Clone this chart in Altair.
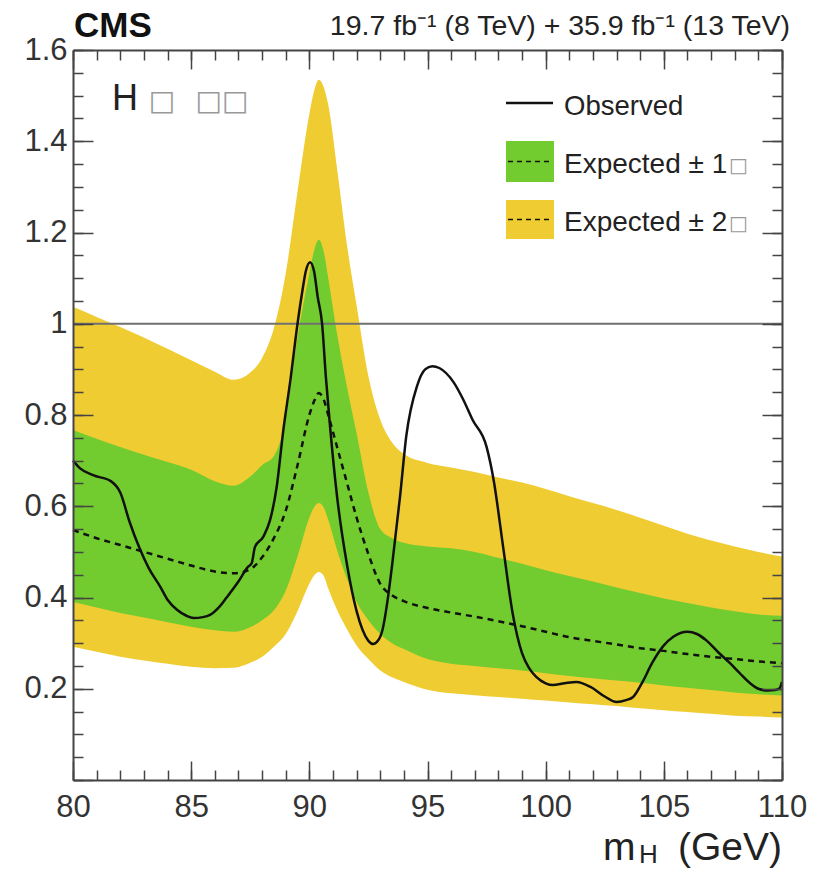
import altair as alt
import pandas as pd

# ---------------- data ----------------
BAND_X = [80, 81, 82, 83, 84, 85, 86, 86.8, 87.5, 88, 88.5, 89, 89.5, 90, 90.2, 90.4,
          90.6, 90.8, 91.2, 91.6, 92, 92.5, 93, 93.5, 94, 95, 96, 97, 98, 99, 100,
          101, 102, 103, 104, 105, 106, 107, 108, 109, 110]
Y2_UP = [1.037, 1.015, 0.993, 0.97, 0.945, 0.92, 0.895, 0.877, 0.893, 0.925, 0.99, 1.11,
         1.29, 1.46, 1.51, 1.535, 1.52, 1.48, 1.33, 1.17, 1.04, 0.885, 0.79, 0.74, 0.715,
         0.695, 0.685, 0.675, 0.663, 0.652, 0.638, 0.622, 0.607, 0.592, 0.575, 0.557,
         0.54, 0.525, 0.512, 0.5, 0.49]
Y1_UP = [0.767, 0.748, 0.73, 0.713, 0.697, 0.68, 0.655, 0.645, 0.665, 0.69, 0.71, 0.79,
         0.97, 1.11, 1.16, 1.184, 1.16, 1.1, 0.97, 0.86, 0.76, 0.63, 0.55, 0.53, 0.52,
         0.512, 0.508, 0.5, 0.487, 0.474, 0.46, 0.447, 0.435, 0.422, 0.41, 0.398, 0.388,
         0.378, 0.37, 0.363, 0.36]
Y1_LO = [0.39, 0.378, 0.366, 0.356, 0.346, 0.336, 0.328, 0.325, 0.335, 0.35, 0.372, 0.415,
         0.49, 0.575, 0.598, 0.607, 0.598, 0.57, 0.5, 0.44, 0.39, 0.35, 0.32, 0.3, 0.287,
         0.265, 0.255, 0.25, 0.245, 0.24, 0.234, 0.228, 0.223, 0.218, 0.213, 0.207, 0.202,
         0.197, 0.192, 0.188, 0.185]
Y2_LO = [0.292, 0.281, 0.27, 0.262, 0.255, 0.248, 0.245, 0.246, 0.257, 0.27, 0.292, 0.32,
         0.37, 0.43, 0.448, 0.456, 0.448, 0.42, 0.37, 0.33, 0.295, 0.265, 0.24, 0.225,
         0.215, 0.198, 0.19, 0.186, 0.182, 0.178, 0.174, 0.17, 0.166, 0.162, 0.157,
         0.153, 0.149, 0.145, 0.141, 0.139, 0.137]
EXP_Y = [0.548, 0.53, 0.515, 0.5, 0.485, 0.47, 0.457, 0.453, 0.462, 0.488, 0.53, 0.59,
         0.69, 0.8, 0.83, 0.848, 0.835, 0.8, 0.725, 0.65, 0.575, 0.495, 0.43, 0.405, 0.392,
         0.377, 0.367, 0.358, 0.348, 0.337, 0.325, 0.313, 0.305, 0.297, 0.289, 0.283,
         0.276, 0.27, 0.265, 0.26, 0.256]

OBS_X = [80.0, 80.3, 80.85, 81.6, 82.0, 82.4, 82.8, 83.2, 83.7, 84.0, 84.4, 84.8, 85.1,
         85.5, 85.8, 86.2, 86.5, 87.0, 87.4, 87.56, 87.7, 88.05, 88.34, 88.62, 88.9, 89.2,
         89.5, 89.7, 89.85, 90.03, 90.2, 90.35, 90.54, 90.7, 90.88, 91.17, 91.6, 92.0,
         92.5, 92.7, 92.9, 93.1, 93.3, 93.5, 93.84, 94.1, 94.56, 94.9, 95.2, 95.5, 96.1,
         96.5, 96.9, 97.5, 97.8, 98.2, 98.6, 99.0, 99.3, 99.6, 100.0, 100.3, 100.8, 101.3,
         101.9, 102.5, 103.0, 103.4, 103.7, 104.1, 104.5, 105.0, 105.4, 106.0, 106.4,
         106.8, 107.3, 107.8, 108.2, 108.65, 109.0, 109.4, 109.7, 109.9, 110.0]
OBS_Y = [0.70, 0.683, 0.668, 0.655, 0.63, 0.565, 0.51, 0.465, 0.423, 0.395, 0.373, 0.36,
         0.355, 0.357, 0.362, 0.38, 0.40, 0.435, 0.467, 0.475, 0.511, 0.533, 0.57, 0.643,
         0.767, 0.877, 1.0, 1.07, 1.115, 1.135, 1.115, 1.06, 1.0, 0.883, 0.773, 0.623,
         0.47, 0.37, 0.305, 0.298, 0.305, 0.33, 0.39, 0.47, 0.622, 0.753, 0.864, 0.9,
         0.907, 0.903, 0.872, 0.835, 0.79, 0.73, 0.657, 0.511, 0.366, 0.278, 0.245, 0.226,
         0.212, 0.208, 0.212, 0.215, 0.204, 0.183, 0.171, 0.175, 0.182, 0.215, 0.256,
         0.295, 0.314, 0.325, 0.32, 0.306, 0.28, 0.256, 0.235, 0.212, 0.2, 0.196, 0.197,
         0.201, 0.215]

REF_LINE = [1.0]

X_LABELS = [80, 85, 90, 95, 100, 105, 110]
X_MINOR = list(range(80, 111))
Y_LABELS = [0.2, 0.4, 0.6, 0.8, 1, 1.2, 1.4, 1.6]
Y_MAJOR = [0, 0.2, 0.4, 0.6, 0.8, 1.0, 1.2, 1.4, 1.6]
Y_MINOR = [round(0.05 * i, 2) for i in range(33)]

LUMI = "19.7 fb\u207b\u00b9 (8 TeV) + 35.9 fb\u207b\u00b9 (13 TeV)"
LEG_OBS = "Observed"
LEG_1S = "Expected \u00b1 1"
LEG_2S = "Expected \u00b1 2"
TOFU = "\u25a1"

# ---------------- layout / style ----------------
W, H = 709, 730
FONT = "Liberation Sans"
YEL = "#F0CC33"
GRN = "#72CB2F"
TC = "#444444"
TXT = "#222222"

xsc = alt.Scale(domain=[80, 110], nice=False, zero=False)
ysc = alt.Scale(domain=[0, 1.6], nice=False, zero=False)


def tick_axis(orient, offset, values, size, domain):
    return alt.Axis(orient=orient, offset=offset, values=values, tickSize=size,
                    tickColor=TC, tickWidth=1.5, labels=False, domain=domain,
                    domainColor=TC, domainWidth=2, grid=False, zindex=2)


ax_x_lab = alt.Axis(orient="bottom", values=X_LABELS, ticks=False, domain=False, grid=False,
                    labelFont=FONT, labelFontSize=31, labelColor="#333333",
                    labelPadding=12, labelFlush=False)
ax_y_lab = alt.Axis(orient="left", values=Y_LABELS, ticks=False, domain=False, grid=False,
                    labelFont=FONT, labelFontSize=31, labelColor="#333333", format="~g",
                    labelPadding=6, labelFlush=False)

band_df = pd.DataFrame({"m": BAND_X, "u2": Y2_UP, "u1": Y1_UP, "l1": Y1_LO,
                        "l2": Y2_LO, "exp": EXP_Y})
obs_df = pd.DataFrame({"m": OBS_X, "obs": OBS_Y})
ref_df = pd.DataFrame({"a": [80], "b": [110], "r": REF_LINE})

yellow = alt.Chart(band_df).mark_area(color=YEL, interpolate="monotone").encode(
    x=alt.X("m:Q", scale=xsc, axis=ax_x_lab, title=None),
    y=alt.Y("u2:Q", scale=ysc, axis=ax_y_lab, title=None),
    y2=alt.Y2("l2:Q"),
)
green = alt.Chart(band_df).mark_area(color=GRN, interpolate="monotone").encode(
    x=alt.X("m:Q", scale=xsc, axis=tick_axis("top", -H, X_LABELS, 19, True), title=None),
    y=alt.Y("u1:Q", scale=ysc, axis=tick_axis("right", -W, Y_MAJOR, 20, True), title=None),
    y2=alt.Y2("l1:Q"),
)
ref = alt.Chart(ref_df).mark_rule(color="#707070", strokeWidth=2).encode(
    x=alt.X("a:Q", scale=xsc, axis=tick_axis("top", -H, X_MINOR, 10, False), title=None),
    x2=alt.X2("b:Q"),
    y=alt.Y("r:Q", scale=ysc, axis=tick_axis("right", -W, Y_MINOR, 10, False), title=None),
)
expected = alt.Chart(band_df).mark_line(color="#111111", strokeWidth=2.5,
                                        strokeDash=[6, 5], interpolate="monotone").encode(
    x=alt.X("m:Q", scale=xsc, axis=tick_axis("bottom", -H, X_LABELS, 19, True), title=None),
    y=alt.Y("exp:Q", scale=ysc, axis=tick_axis("left", -W, Y_MAJOR, 20, True), title=None),
)
observed = alt.Chart(obs_df).mark_line(color="#111111", strokeWidth=2.5,
                                       interpolate="monotone").encode(
    x=alt.X("m:Q", scale=xsc, axis=tick_axis("bottom", -H, X_MINOR, 10, False), title=None),
    y=alt.Y("obs:Q", scale=ysc, axis=tick_axis("left", -W, Y_MINOR, 10, False), title=None),
)

one = pd.DataFrame({"k": [0]})


def text(s, x, y, size, align="left", bold=False, color=TXT, font=FONT):
    return alt.Chart(pd.DataFrame({"t": [s]})).mark_text(
        align=align, baseline="alphabetic", font=font, fontSize=size,
        fontWeight="bold" if bold else "normal", color=color).encode(
        x=alt.value(x), y=alt.value(y), text="t:N")


def rect(x, x2, y, y2, color):
    return alt.Chart(one).mark_rect(color=color).encode(
        x=alt.value(x), x2=alt.value(x2), y=alt.value(y), y2=alt.value(y2))


def seg(x, x2, y, dash=None, width=2.5):
    kw = {"strokeDash": dash} if dash else {}
    return alt.Chart(one).mark_rule(color="#111111", strokeWidth=width, **kw).encode(
        x=alt.value(x), x2=alt.value(x2), y=alt.value(y))


texts = [
    text("CMS", 1, -13, 35, bold=True, color="#111111"),
    text(LUMI, 717, -15, 28.5, align="right"),
    text("H", 39, 60, 36),
    text(TOFU, 89, 60, 28, align="center", color="#999999", font="DejaVu Sans"),
    text(TOFU + TOFU, 149, 60, 28, align="center", color="#999999", font="DejaVu Sans"),
    # legend
    seg(433, 480, 53, width=2.5),
    text(LEG_OBS, 491, 65, 27.5),
    rect(433, 481, 91, 132, GRN),
    seg(435, 479, 111.5, dash=[5, 4], width=1.5),
    text(LEG_1S, 491, 123, 28),
    text(TOFU, 656, 122, 20, color="#999999", font="DejaVu Sans"),
    rect(433, 481, 150, 189, YEL),
    seg(435, 479, 169.5, dash=[5, 4], width=1.5),
    text(LEG_2S, 491, 181, 28),
    text(TOFU, 656, 180, 20, color="#999999", font="DejaVu Sans"),
    # x axis title
    text("m", 530, 810, 39),
    text("H", 566, 813, 26),
    text("(GeV)", 709, 810, 39, align="right"),
]

chart = alt.layer(yellow, green, ref, expected, observed, *texts).resolve_axis(
    x="independent", y="independent"
).properties(
    width=W, height=H,
    padding={"left": 73, "top": 50, "right": 43, "bottom": 91},
    autosize=alt.AutoSizeParams(type="none"),
    background="white",
).configure_view(strokeWidth=0)

chart.save("out.html", embed_options={"renderer": "svg", "actions": False})
